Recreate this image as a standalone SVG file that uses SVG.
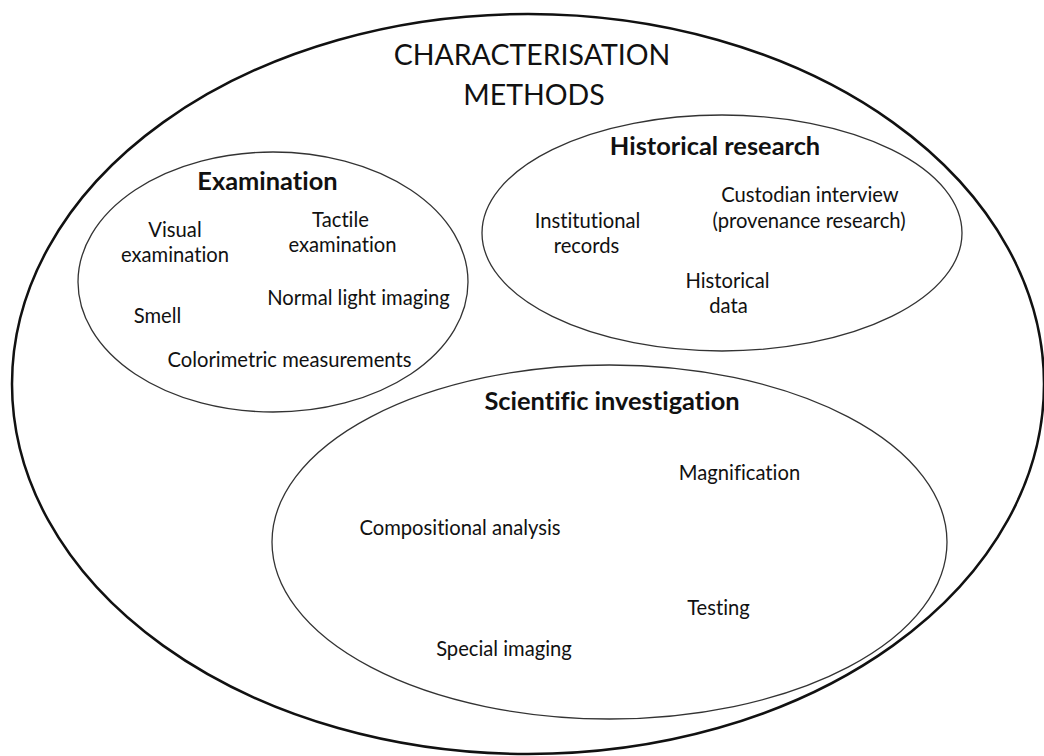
<svg xmlns="http://www.w3.org/2000/svg" width="1044" height="756" viewBox="0 0 1044 756">
  <style>
    .outer { fill: none; stroke: #111; stroke-width: 2.5; }
    .inner { fill: none; stroke: #333; stroke-width: 1.3; }
    text { font-family: Lato, "Open Sans", "Liberation Sans", sans-serif; fill: #111; text-anchor: middle; font-variant-ligatures: none; font-feature-settings: "liga" 0, "clig" 0, "dlig" 0; }
    .title { font-size: 28.5px; font-weight: 400; }
    .head { font-size: 25.4px; font-weight: 700; }
    .item { font-size: 20.2px; }
  </style>
  <rect width="1044" height="756" fill="#fff"/>
  <g id="characterisation-methods">
    <ellipse class="outer" cx="528" cy="384" rx="516" ry="370"/>
    <text class="title" x="532" y="65">CHARACTERISATION</text>
    <text class="title" x="534" y="105">METHODS</text>
  </g>
  <g id="examination">
    <ellipse class="inner" cx="273" cy="282" rx="195" ry="130"/>
    <text class="head" x="267.5" y="190">Examination</text>
    <text class="item" x="175" y="237">Visual</text>
    <text class="item" x="175" y="262">examination</text>
    <text class="item" x="340.5" y="227">Tactile</text>
    <text class="item" x="342.5" y="252">examination</text>
    <text class="item" x="358.5" y="305">Normal light imaging</text>
    <text class="item" x="157.5" y="323">Smell</text>
    <text class="item" x="289.5" y="367">Colorimetric measurements</text>
  </g>
  <g id="historical-research">
    <ellipse class="inner" cx="722" cy="233" rx="240" ry="118"/>
    <text class="head" x="715" y="155">Historical research</text>
    <text class="item" x="810" y="202">Custodian interview</text>
    <text class="item" x="809" y="228">(provenance research)</text>
    <text class="item" x="587.5" y="228">Institutional</text>
    <text class="item" x="586.5" y="253">records</text>
    <text class="item" x="727.5" y="288">Historical</text>
    <text class="item" x="728.5" y="313">data</text>
  </g>
  <g id="scientific-investigation">
    <ellipse class="inner" cx="609.5" cy="542" rx="337.5" ry="177"/>
    <text class="head" x="612" y="410">Scientific investigation</text>
    <text class="item" x="739.5" y="480">Magnification</text>
    <text class="item" x="460" y="535">Compositional analysis</text>
    <text class="item" x="718.5" y="615">Testing</text>
    <text class="item" x="504" y="656">Special imaging</text>
  </g>
  <g id="connectors"/>
</svg>
